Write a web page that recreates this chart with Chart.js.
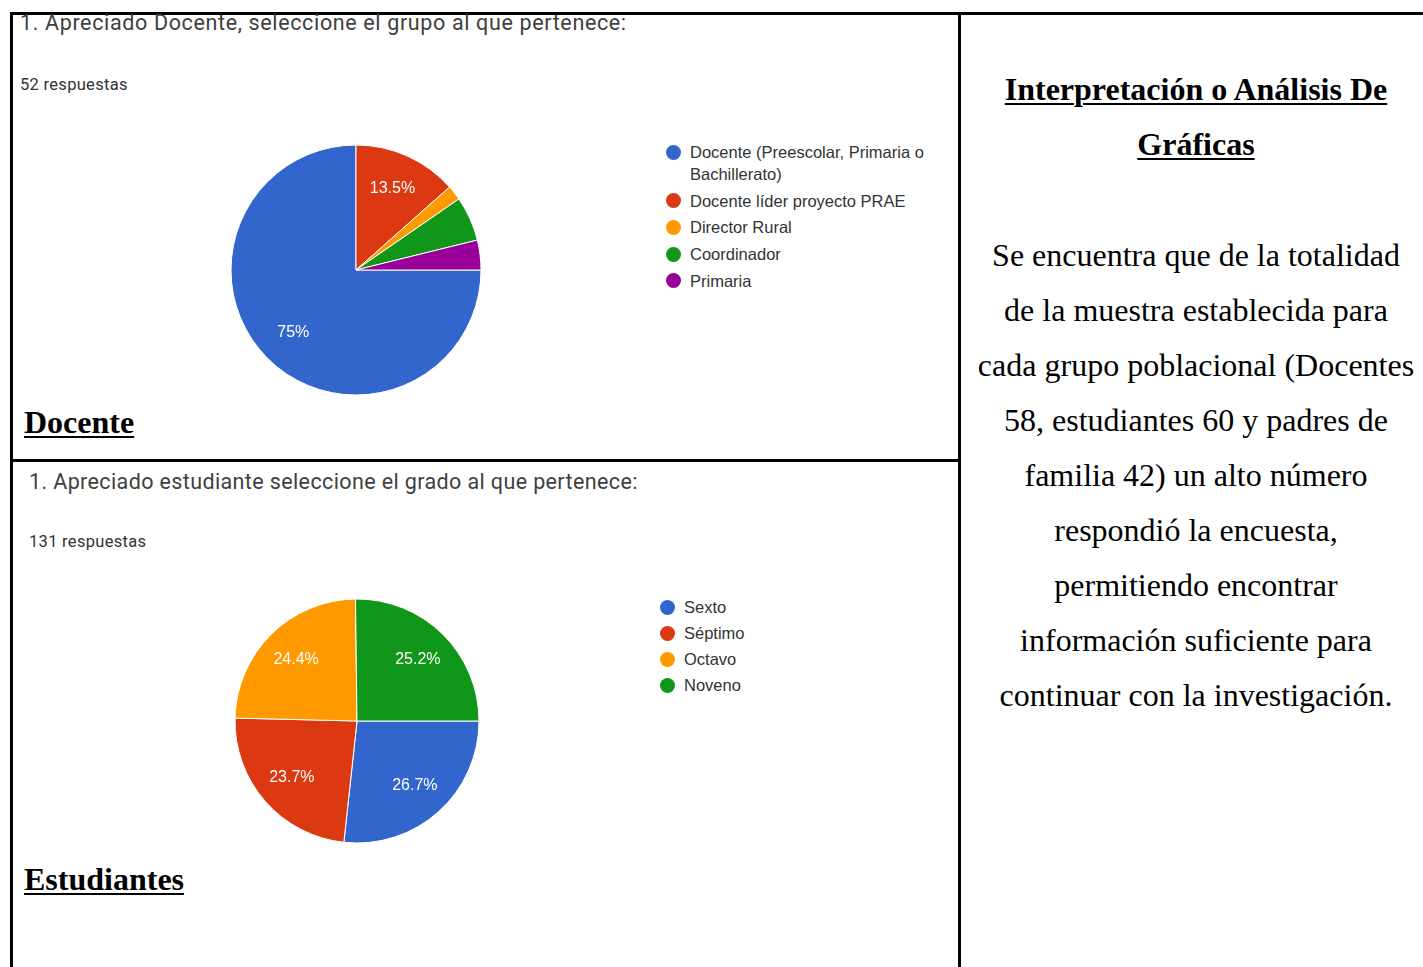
<!DOCTYPE html>
<html>
<head>
<meta charset="utf-8">
<script src="https://cdn.jsdelivr.net/npm/chart.js@4.4.1/dist/chart.umd.min.js"></script>
<style>
  html, body { margin:0; padding:0; background:#fff; }
  body { width:1423px; height:967px; position:relative; overflow:hidden; }
  .abs { position:absolute; }
  .line { position:absolute; background:#000; }
  .qtitle { font-family: Roboto, "Liberation Sans", sans-serif; font-size:21.5px; color:#404040; white-space:nowrap; line-height:26px; }
  .resp { font-family: Roboto, "Liberation Sans", sans-serif; font-size:16.5px; letter-spacing:0.3px; color:#333; white-space:nowrap; line-height:20px; }
  .serifb { font-family: "Liberation Serif", "Times New Roman", serif; font-weight:bold; font-size:32px; text-decoration:underline; text-decoration-thickness:2px; text-underline-offset:3px; color:#000; white-space:nowrap; }
  .legend { position:absolute; font-family: "Liberation Sans", Arial, sans-serif; font-size:16.5px; color:#333; }
  .legend .item { position:relative; line-height:22px; }
  .legend .dot { position:absolute; width:15px; height:15px; border-radius:50%; top:3.5px; }
  .panel { position:absolute; left:965px; width:462px; text-align:center; font-family:"Liberation Serif","Times New Roman",serif; color:#000; font-size:32px; line-height:55px; }
  .panel .h { font-weight:bold; text-decoration:underline; text-decoration-thickness:2px; text-underline-offset:3px; }
</style>
</head>
<body>
<script>
// ---- Data ----
const docenteLabels = ["Docente (Preescolar, Primaria o Bachillerato)", "Docente líder proyecto PRAE", "Director Rural", "Coordinador", "Primaria"];
const docenteValues = [39, 7, 1, 3, 2];
const docenteTitle = "1. Apreciado Docente, seleccione el grupo al que pertenece:";
const docenteResp = "52 respuestas";

const estLabels = ["Sexto", "Séptimo", "Octavo", "Noveno"];
const estValues = [35, 31, 32, 33];
const estTitle = "1. Apreciado estudiante seleccione el grado al que pertenece:";
const estResp = "131 respuestas";

const palette = ["#3366cc", "#dc3912", "#ff9900", "#109618", "#990099"];

const panelHeader = ["Interpretación o Análisis De", "Gráficas"];
const panelBody = [
  "Se encuentra que de la totalidad",
  "de la muestra establecida para",
  "cada grupo poblacional (Docentes",
  "58, estudiantes 60 y padres de",
  "familia 42) un alto número",
  "respondió la encuesta,",
  "permitiendo encontrar",
  "información suficiente para",
  "continuar con la investigación."
];
</script>

<!-- borders -->
<div class="line" style="left:10px; top:12px; width:1413px; height:3px;"></div>
<div class="line" style="left:10px; top:12px; width:3px; height:955px;"></div>
<div class="line" style="left:958px; top:12px; width:3px; height:955px;"></div>
<div class="line" style="left:10px; top:459px; width:950px; height:3px;"></div>

<div id="t1" class="abs qtitle" style="left:20px; top:10px; letter-spacing:0.64px;"></div>
<div id="r1" class="abs resp" style="left:20px; top:75px;"></div>
<div id="t2" class="abs qtitle" style="left:29px; top:469px; letter-spacing:0.38px;"></div>
<div id="r2" class="abs resp" style="left:29px; top:532px;"></div>

<canvas id="c1" class="abs" width="300" height="300" style="left:206px; top:120px;"></canvas>
<canvas id="c2" class="abs" width="300" height="300" style="left:207px; top:571px;"></canvas>

<div id="lg1" class="legend" style="left:666px; top:141px; width:266px;"></div>
<div id="lg2" class="legend" style="left:660px; top:596px; width:200px;"></div>

<div class="abs serifb" style="left:24px; top:402px; line-height:40px;">Docente</div>
<div class="abs serifb" style="left:24px; top:859px; line-height:40px;">Estudiantes</div>

<div id="panelH" class="panel" style="top:62px;"></div>
<div id="panelB" class="panel" style="top:228px;"></div>

<script>
document.getElementById('t1').textContent = docenteTitle;
document.getElementById('r1').textContent = docenteResp;
document.getElementById('t2').textContent = estTitle;
document.getElementById('r2').textContent = estResp;

document.getElementById('panelH').innerHTML = panelHeader.map(s => '<span class="h">' + s + '</span>').join('<br>');
document.getElementById('panelB').innerHTML = panelBody.join('<br>');

function buildLegend(id, labels, colors, gap) {
  const el = document.getElementById(id);
  labels.forEach((lab, i) => {
    const it = document.createElement('div');
    it.className = 'item';
    it.style.marginBottom = gap + 'px';
    it.style.paddingLeft = '24px';
    const d = document.createElement('span');
    d.className = 'dot';
    d.style.left = '0px';
    d.style.background = colors[i];
    it.appendChild(d);
    it.appendChild(document.createTextNode(lab));
    el.appendChild(it);
  });
}
buildLegend('lg1', docenteLabels, palette, 4.7);
buildLegend('lg2', estLabels, palette, 4);

const pctLabels = {
  id: 'pctLabels',
  afterDatasetsDraw(chart) {
    const ctx = chart.ctx;
    const ds = chart.data.datasets[0];
    const total = ds.data.reduce((a, b) => a + b, 0);
    const meta = chart.getDatasetMeta(0);
    ctx.save();
    ctx.fillStyle = '#fff';
    ctx.font = '16px "Liberation Sans", Arial, sans-serif';
    ctx.textAlign = 'center';
    ctx.textBaseline = 'middle';
    meta.data.forEach((arc, i) => {
      const p = ds.data[i] / total * 100;
      if (p < 10) return;
      const {x, y, startAngle, endAngle, outerRadius} = arc.getProps(['x','y','startAngle','endAngle','outerRadius'], true);
      const mid = (startAngle + endAngle) / 2;
      const r = outerRadius * 0.71;
      let txt = (Math.round(p * 10) / 10).toFixed(1);
      if (txt.endsWith('.0')) txt = txt.slice(0, -2);
      ctx.fillText(txt + '%', x + Math.cos(mid) * r, y + Math.sin(mid) * r);
    });
    ctx.restore();
  }
};

function makePie(id, labels, values, radius) {
  new Chart(document.getElementById(id), {
    type: 'pie',
    data: {
      labels: labels,
      datasets: [{
        data: values,
        backgroundColor: palette.slice(0, values.length),
        borderColor: '#ffffff',
        borderWidth: 1
      }]
    },
    options: {
      responsive: false,
      animation: false,
      rotation: 90,
      radius: radius,
      layout: { padding: 0 },
      plugins: { legend: { display: false }, tooltip: { enabled: false } }
    },
    plugins: [pctLabels]
  });
}
makePie('c1', docenteLabels, docenteValues, 125);
makePie('c2', estLabels, estValues, 122);
</script>
</body>
</html>
